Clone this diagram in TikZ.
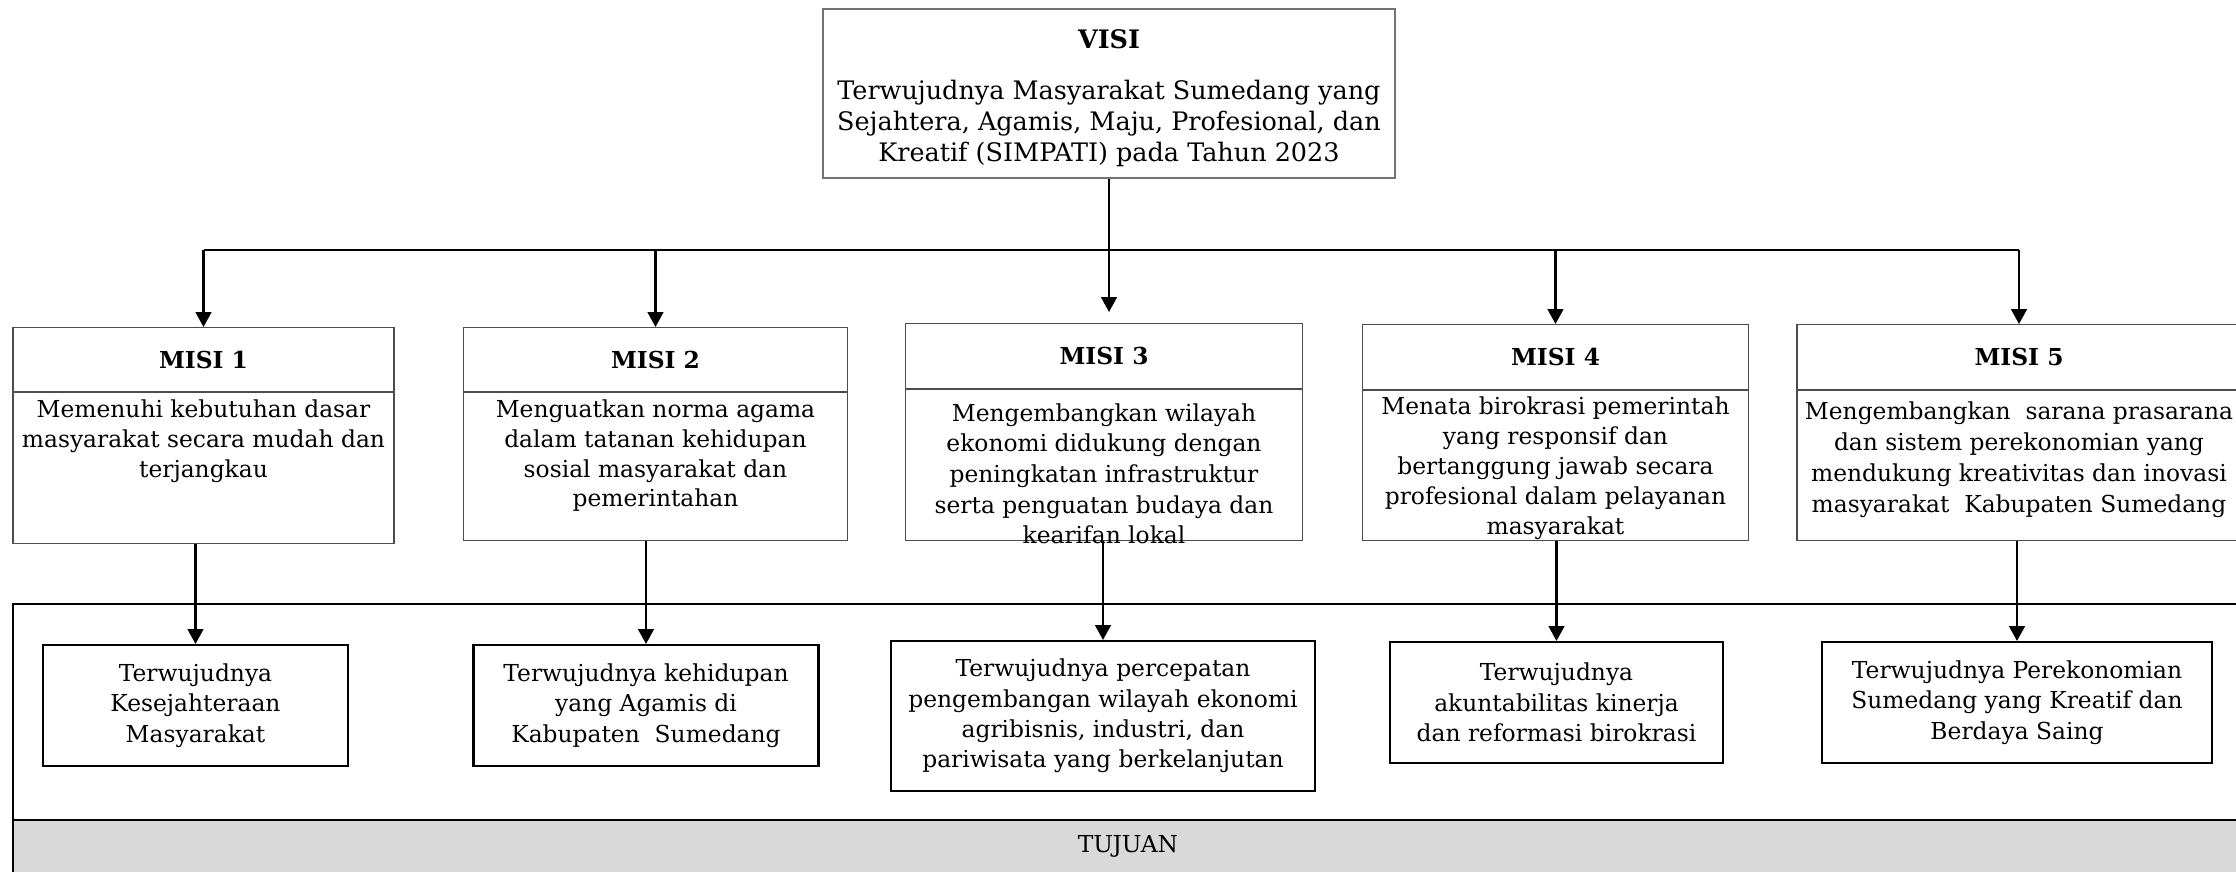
\documentclass[tikz,border=0pt]{standalone}
\usepackage{fontspec}
\setmainfont{DejaVu Serif}
\usetikzlibrary{arrows.meta,positioning}

\begin{document}
\begin{tikzpicture}[
  x=0.02cm, y=-0.02cm,
  font=\fontsize{13.3}{17.3}\selectfont,
  >={Triangle[length=8.5pt,width=9pt]},
  visibox/.style={draw=black!55, line width=0.7pt, align=center, inner sep=0pt,
    minimum width=11.44cm, minimum height=3.38cm, font=\fontsize{14.5}{17.8}\selectfont},
  misibox/.style={draw=black!70, line width=0.7pt, inner sep=0pt, minimum height=1.3cm,
    font=\fontsize{13.3}{16}\selectfont\bfseries, anchor=north},
  isibox/.style={draw=black!70, line width=0.7pt, inner sep=0pt},
  isitext/.style={align=center, inner sep=0pt, font=\fontsize{13.3}{17}\selectfont},
  tujbox/.style={draw, line width=1.2pt, align=center, inner sep=0pt, minimum height=2.42cm},
  arrow/.style={->, line width=1.2pt}
]
\path[use as bounding box, clip] (0,0) rectangle (2236,872);

\node[visibox] (visi) at (1109,93.5) {\rule{0pt}{16.5pt}{\bfseries VISI}\\[11pt]
  Terwujudnya Masyarakat Sumedang yang\\
  Sejahtera, Agamis, Maju, Profesional, dan\\
  Kreatif (SIMPATI) pada Tahun 2023};

% misi: kepala dan isi
\node[misibox, minimum width=7.62cm, minimum height=1.28cm] (misi1) at (203.5,327) {MISI 1};
\node[misibox, minimum width=7.68cm, minimum height=1.28cm] (misi2) at (655.5,327) {MISI 2};
\node[misibox, minimum width=7.94cm] (misi3) at (1104,323) {MISI 3};
\node[misibox, minimum width=7.72cm] (misi4) at (1555.5,324) {MISI 4};
\node[misibox, minimum width=8.88cm] (misi5) at (2019,324) {MISI 5};

\node[isibox, below=0pt of misi1, minimum width=7.62cm, minimum height=3.02cm] (isi1) {};
\node[isibox, below=0pt of misi2, minimum width=7.68cm, minimum height=2.96cm] (isi2) {};
\node[isibox, below=0pt of misi3, minimum width=7.94cm, minimum height=3.02cm] (isi3) {};
\node[isibox, below=0pt of misi4, minimum width=7.72cm, minimum height=3.0cm] (isi4) {};
\node[isibox, below=0pt of misi5, minimum width=8.88cm, minimum height=3.0cm] (isi5) {};

\node[isitext, below=0.14cm of isi1.north] (teks1) {Memenuhi kebutuhan dasar\\
  masyarakat secara mudah dan\\ terjangkau};
\node[isitext, below=0.14cm of isi2.north] (teks2) {Menguatkan norma agama\\
  dalam tatanan kehidupan\\ sosial masyarakat dan\\ pemerintahan};
\node[isitext, below=0.28cm of isi3.north, font=\fontsize{13.3}{17.4}\selectfont] (teks3) {Mengembangkan wilayah\\
  ekonomi didukung dengan\\ peningkatan infrastruktur\\
  serta penguatan budaya dan\\ kearifan lokal};
\node[isitext, below=0.13cm of isi4.north] (teks4) {Menata birokrasi pemerintah\\
  yang responsif dan\\ bertanggung jawab secara\\
  profesional dalam pelayanan\\ masyarakat};
\node[isitext, below=0.22cm of isi5.north, font=\fontsize{13.3}{17.6}\selectfont] (teks5) {Mengembangkan\ \ sarana prasarana\\
  dan sistem perekonomian yang\\ mendukung kreativitas dan inovasi\\
  masyarakat\ \ Kabupaten Sumedang};

% bingkai tujuan
\draw[line width=1.5pt] (13,604) rectangle (2280,900);
\filldraw[fill=black!15, line width=1.5pt] (13,820) rectangle (2280,900);
\node (tujuan) at (1128,846) {TUJUAN};

\node[tujbox, minimum width=6.1cm] (tuj1) at (195.5,705.5) {Terwujudnya\\
  Kesejahteraan\\ Masyarakat};
\node[tujbox, minimum width=6.9cm] (tuj2) at (646,705.5) {Terwujudnya kehidupan\\
  yang Agamis di\\ Kabupaten\ \ Sumedang};
\node[tujbox, minimum width=8.48cm, minimum height=3.0cm] (tuj3) at (1103,716) {Terwujudnya percepatan\\
  pengembangan wilayah ekonomi\\ agribisnis, industri, dan\\ pariwisata yang berkelanjutan};
\node[tujbox, minimum width=6.66cm] (tuj4) at (1556.5,702.5) {Terwujudnya\\
  akuntabilitas kinerja\\ dan reformasi birokrasi};
\node[tujbox, minimum width=7.8cm] (tuj5) at (2017,702.5) {Terwujudnya Perekonomian\\
  Sumedang yang Kreatif dan\\ Berdaya Saing};

% garis dan panah
\coordinate (bus) at (1109,250);
\draw[line width=1.2pt] (misi1.north |- bus) -- (misi5.north |- bus);
\draw[arrow, shorten >=0.22cm] (visi.south) -- (visi.south |- misi3.north);
\foreach \m in {misi1,misi2,misi4,misi5}
  \draw[arrow] (\m.north |- bus) -- (\m.north);
\foreach \i in {1,...,5}
  \draw[arrow] (tuj\i.north |- isi\i.south) -- (tuj\i.north);
\end{tikzpicture}
\end{document}
